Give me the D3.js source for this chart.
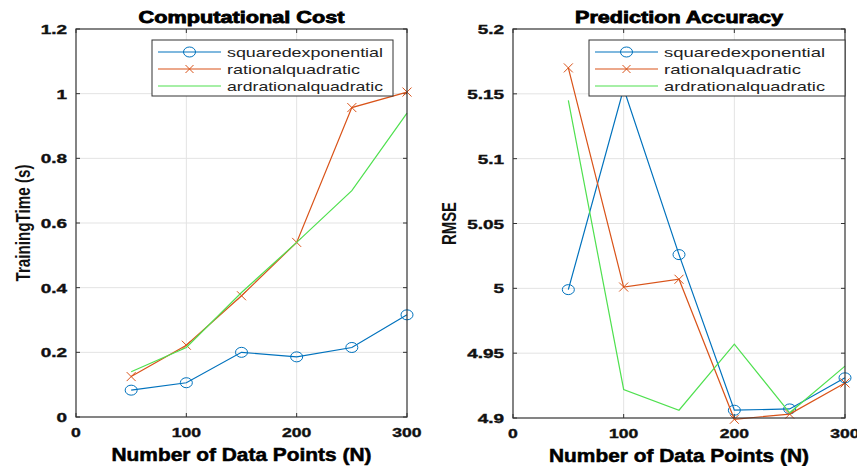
<!DOCTYPE html>
<html>
<head>
<meta charset="utf-8">
<script src="https://cdn.jsdelivr.net/npm/d3@7"></script>
<style>
  body { margin: 0; background: #fff; }
  text { font-family: "Liberation Sans", Arial, sans-serif; }
</style>
</head>
<body>
<svg id="chart" width="857" height="466"></svg>
<script>
const nPoints = [50, 100, 150, 200, 250, 300];
const seriesNames = ["squaredexponential", "rationalquadratic", "ardrationalquadratic"];

const costSquaredExp = [0.083, 0.106, 0.200, 0.186, 0.215, 0.316];
const costRationalQuad = [0.125, 0.222, 0.375, 0.540, 0.957, 1.005];
const costArdRationalQuad = [0.140, 0.215, 0.385, 0.540, 0.700, 0.940];

const rmseSquaredExp = [4.999, 5.154, 5.026, 4.906, 4.907, 4.931];
const rmseRationalQuad = [5.170, 5.001, 5.007, 4.899, 4.903, 4.927];
const rmseArdRationalQuad = [5.145, 4.922, 4.906, 4.957, 4.904, 4.940];

const xTicks = [0, 100, 200, 300];
const costTicks = [0, 0.2, 0.4, 0.6, 0.8, 1, 1.2];
const rmseTicks = [4.9, 4.95, 5, 5.05, 5.1, 5.15, 5.2];

const colors = ["#0072BD", "#D95319", "#4fe04f"];
const markers = ["circle", "cross", "none"];

const svg = d3.select("#chart");

// the picture is stretched sideways, so widen text to match
function stretch(sel, factor) {
    sel.each(function() {
        const w = this.getComputedTextLength();
        d3.select(this).attr("textLength", w * factor).attr("lengthAdjust", "spacingAndGlyphs");
    });
}

function drawPanel(cfg) {
    const g = svg.append("g");
    const x = d3.scaleLinear().domain([0, 300]).range([cfg.left, cfg.right]);
    const y = d3.scaleLinear().domain(cfg.yDomain).range([cfg.bottom, cfg.top]);

    // grid
    g.selectAll(".gx").data(xTicks.slice(1, -1)).enter().append("line")
        .attr("x1", d => x(d)).attr("x2", d => x(d))
        .attr("y1", cfg.top).attr("y2", cfg.bottom)
        .attr("stroke", "#e3e3e3").attr("stroke-width", 1);
    g.selectAll(".gy").data(cfg.yTicks.slice(1, -1)).enter().append("line")
        .attr("x1", cfg.left).attr("x2", cfg.right)
        .attr("y1", d => y(d)).attr("y2", d => y(d))
        .attr("stroke", "#e3e3e3").attr("stroke-width", 1);

    // tick marks (inside, both sides)
    const tl = 4;
    cfg.yTicks.forEach(t => {
        g.append("line").attr("x1", cfg.left).attr("x2", cfg.left + tl)
            .attr("y1", y(t)).attr("y2", y(t)).attr("stroke", "#333");
        g.append("line").attr("x1", cfg.right).attr("x2", cfg.right - tl)
            .attr("y1", y(t)).attr("y2", y(t)).attr("stroke", "#333");
    });
    xTicks.forEach(t => {
        g.append("line").attr("x1", x(t)).attr("x2", x(t))
            .attr("y1", cfg.bottom).attr("y2", cfg.bottom - tl).attr("stroke", "#333");
        g.append("line").attr("x1", x(t)).attr("x2", x(t))
            .attr("y1", cfg.top).attr("y2", cfg.top + tl).attr("stroke", "#333");
    });

    // lines + markers
    cfg.series.forEach((vals, i) => {
        const data = nPoints.map((n, k) => [n, vals[k]]);
        g.append("path").datum(data)
            .attr("fill", "none").attr("stroke", colors[i]).attr("stroke-width", 1.2)
            .attr("d", d3.line().x(d => x(d[0])).y(d => y(d[1])));
        if (markers[i] === "circle") {
            g.selectAll(null).data(data).enter().append("ellipse")
                .attr("cx", d => x(d[0])).attr("cy", d => y(d[1]))
                .attr("rx", 6).attr("ry", 5)
                .attr("fill", "none").attr("stroke", colors[i]).attr("stroke-width", 1);
        } else if (markers[i] === "cross") {
            g.selectAll(null).data(data).enter().append("path")
                .attr("d", d => {
                    const cx = x(d[0]), cy = y(d[1]), s = 4.5;
                    return `M${cx - s},${cy - s}L${cx + s},${cy + s}M${cx - s},${cy + s}L${cx + s},${cy - s}`;
                })
                .attr("stroke", colors[i]).attr("stroke-width", 1);
        }
    });

    // box
    g.append("rect").attr("x", cfg.left).attr("y", cfg.top)
        .attr("width", cfg.right - cfg.left).attr("height", cfg.bottom - cfg.top)
        .attr("fill", "none").attr("stroke", "#333").attr("stroke-width", 1.2);

    // tick labels
    g.selectAll(".xl").data(xTicks).enter().append("text")
        .attr("x", d => x(d)).attr("y", cfg.bottom + 20)
        .attr("text-anchor", "middle").attr("font-size", 13.5).attr("font-weight", "bold")
        .attr("fill", "#111").attr("stroke", "#111").attr("stroke-width", 0.4)
        .text(d => d)
        .call(stretch, 1.3);
    g.selectAll(".yl").data(cfg.yTicks).enter().append("text")
        .attr("x", cfg.left - 9).attr("y", d => y(d) + 5)
        .attr("text-anchor", "end").attr("font-size", 13.5).attr("font-weight", "bold")
        .attr("fill", "#111").attr("stroke", "#111").attr("stroke-width", 0.4)
        .text(d => d)
        .call(stretch, 1.4);

    // title and labels
    g.append("text").attr("x", (cfg.left + cfg.right) / 2).attr("y", cfg.top - 6)
        .attr("text-anchor", "middle").attr("font-size", 16.5).attr("font-weight", "bold")
        .attr("fill", "#000").attr("stroke", "#000").attr("stroke-width", 0.8)
        .attr("textLength", cfg.titleW).attr("lengthAdjust", "spacingAndGlyphs")
        .text(cfg.title);
    g.append("text").attr("x", (cfg.left + cfg.right) / 2).attr("y", cfg.bottom + 44)
        .attr("text-anchor", "middle").attr("font-size", 17.5).attr("font-weight", "bold")
        .attr("fill", "#000").attr("stroke", "#000").attr("stroke-width", 0.5)
        .attr("textLength", 260).attr("lengthAdjust", "spacingAndGlyphs")
        .text("Number of Data Points (N)");
    g.append("text")
        .attr("transform", `translate(${cfg.yLabelX},${(cfg.top + cfg.bottom) / 2}) scale(1.3,1) rotate(-90)`)
        .attr("text-anchor", "middle").attr("font-size", 15).attr("font-weight", "bold")
        .attr("fill", "#111")
        .attr("textLength", cfg.yLabelW).attr("lengthAdjust", "spacingAndGlyphs")
        .text(cfg.yLabel);

    // legend
    const lg = g.append("g");
    lg.append("rect").attr("x", cfg.legX).attr("y", 40)
        .attr("width", cfg.legW).attr("height", 56)
        .attr("fill", "#fff").attr("stroke", "#333").attr("stroke-width", 1);
    seriesNames.forEach((name, i) => {
        const ly = 52 + i * 17;
        const x0 = cfg.legX + 6, x1 = cfg.legX + 69;
        lg.append("line").attr("x1", x0).attr("x2", x1).attr("y1", ly).attr("y2", ly)
            .attr("stroke", colors[i]).attr("stroke-width", 1.2);
        const mx = (x0 + x1) / 2;
        if (markers[i] === "circle") {
            lg.append("ellipse").attr("cx", mx).attr("cy", ly).attr("rx", 6).attr("ry", 5)
                .attr("fill", "none").attr("stroke", colors[i]);
        } else if (markers[i] === "cross") {
            const s = 4;
            lg.append("path")
                .attr("d", `M${mx - s},${ly - s}L${mx + s},${ly + s}M${mx - s},${ly + s}L${mx + s},${ly - s}`)
                .attr("stroke", colors[i]);
        }
        lg.append("text").attr("x", cfg.legX + 75).attr("y", ly + 4.5)
            .attr("font-size", 13).attr("fill", "#222")
            .attr("textLength", cfg.legTextW[i]).attr("lengthAdjust", "spacingAndGlyphs")
            .text(name);
    });
}

drawPanel({
    left: 76, right: 407, top: 29, bottom: 417,
    yDomain: [0, 1.2], yTicks: costTicks,
    series: [costSquaredExp, costRationalQuad, costArdRationalQuad],
    title: "Computational Cost", titleW: 206,
    yLabel: "TrainingTime (s)", yLabelX: 30, yLabelW: 117,
    legX: 152, legW: 241, legTextW: [156, 133, 156]
});

drawPanel({
    left: 513, right: 845, top: 29, bottom: 418,
    yDomain: [4.9, 5.2], yTicks: rmseTicks,
    series: [rmseSquaredExp, rmseRationalQuad, rmseArdRationalQuad],
    title: "Prediction Accuracy", titleW: 208,
    yLabel: "RMSE", yLabelX: 456, yLabelW: 43,
    legX: 589, legW: 256, legTextW: [161, 137, 161]
});
</script>
</body>
</html>
